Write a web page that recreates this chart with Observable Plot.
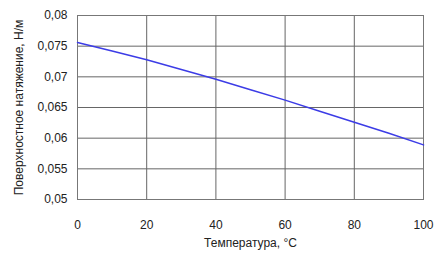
<!DOCTYPE html>
<html><head><meta charset="utf-8">
<script src="https://cdn.jsdelivr.net/npm/d3@7"></script>
<script src="https://cdn.jsdelivr.net/npm/@observablehq/plot@0.6"></script>
<style>body{margin:0;background:#fff}</style>
</head><body><div id="chart"></div>
<script>
const temps = [0, 10, 20, 30, 40, 50, 60, 70, 80, 90, 100];
const tension = [0.0756, 0.0742, 0.0728, 0.0712, 0.0696, 0.0679, 0.0662, 0.0644, 0.0626, 0.0608, 0.0589];
const xTicks = [0, 20, 40, 60, 80, 100];
const yTicks = [0.05, 0.055, 0.06, 0.065, 0.07, 0.075, 0.08];
const xTitle = "Температура, °C";
const yTitle = "Поверхностное натяжение, Н/м";

const data = temps.map((t, i) => ({t, s: tension[i]}));
const fmt = d => String(d).replace(".", ",");

const chart = Plot.plot({
  width: 441, height: 256,
  marginLeft: 77, marginRight: 18, marginTop: 15, marginBottom: 57,
  style: {fontFamily: "Liberation Sans, Arial, sans-serif", fontSize: "12px", color: "#222"},
  x: {domain: [0, 100]},
  y: {domain: [0.05, 0.08]},
  marks: [
    Plot.gridX(xTicks, {stroke: "#666", strokeOpacity: 1, strokeWidth: 1}),
    Plot.gridY(yTicks, {stroke: "#666", strokeOpacity: 1, strokeWidth: 1}),
    Plot.frame({stroke: "#777"}),
    Plot.axisX(xTicks, {tickSize: 0, tickPadding: 21, tickFormat: d => d, fontSize: 12, label: null}),
    Plot.axisY(yTicks, {tickSize: 0, tickPadding: 10, tickFormat: fmt, fontSize: 12, label: null}),
    Plot.text([xTitle], {frameAnchor: "bottom", dy: 47, text: d => d, fontSize: 12, fill: "#222"}),
    Plot.text([yTitle], {frameAnchor: "left", textAnchor: "middle", dx: -58, rotate: -90, text: d => d, fontSize: 12, fill: "#222"}),
    Plot.line(data, {x: "t", y: "s", stroke: "#3c3ce6", strokeWidth: 1.5})
  ]
});
document.getElementById("chart").appendChild(chart);
</script>
</body></html>
